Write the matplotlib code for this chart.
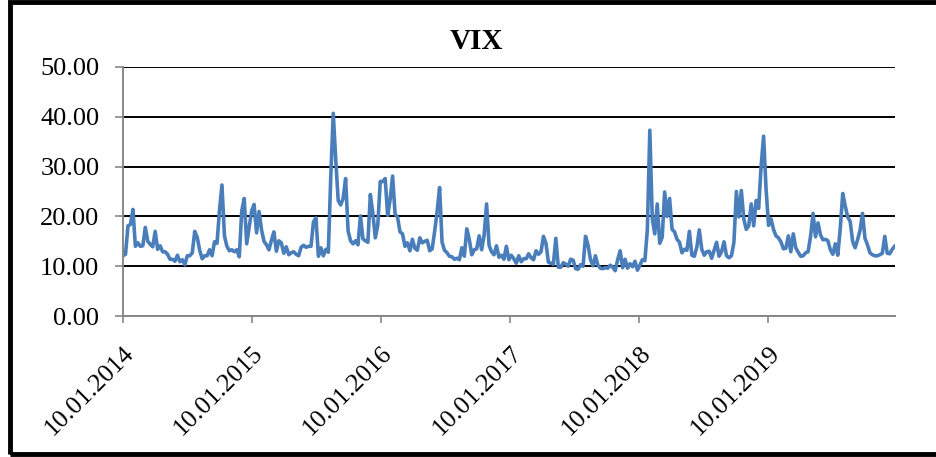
import matplotlib
matplotlib.use("Agg")
import matplotlib.pyplot as plt
import matplotlib.transforms as mtransforms
import pandas as pd
from matplotlib.patches import Rectangle
from matplotlib.ticker import FormatStrFormatter

# weekly readings (Friday)
vix_2014 = [12.1, 12.4, 18.1, 18.4, 21.4, 14.0, 14.7, 14.0, 14.1, 17.8, 15.0, 14.4,
            13.9, 17.0, 13.4, 14.1, 12.9, 12.9, 12.4, 11.4, 11.4, 11.0, 12.2, 10.9,
            11.3, 10.3, 12.1, 12.1, 12.7, 17.0, 15.8, 13.2, 11.5, 12.1, 12.1, 13.3,
            12.1, 14.9, 14.6, 21.2, 26.3, 16.1, 14.0, 13.1, 13.3, 12.9, 13.3, 11.9,
            21.1, 23.6, 14.5]
vix_2015 = [17.8, 21.1, 22.4, 16.7, 21.0, 17.3, 15.0, 14.3, 13.3, 15.2, 16.9, 13.0,
            15.1, 14.7, 12.6, 13.9, 12.3, 12.7, 12.9, 12.4, 12.1, 13.8, 14.2, 13.8,
            14.0, 14.0, 18.9, 19.7, 12.0, 13.7, 12.1, 13.4, 12.8, 28.0, 40.7, 31.4,
            23.2, 22.3, 23.6, 27.6, 17.1, 15.1, 14.5, 15.1, 14.3, 20.1, 15.5, 15.1,
            14.8, 24.4, 20.7, 15.7]
vix_2016 = [18.2, 27.0, 27.0, 27.6, 20.2, 23.4, 28.1, 20.5, 19.8, 16.9, 16.5, 14.0,
            14.7, 13.1, 15.4, 13.6, 13.2, 15.7, 14.7, 15.0, 15.2, 13.1, 13.5, 17.0,
            21.0, 25.8, 14.8, 13.2, 12.7, 12.0, 11.9, 11.4, 11.6, 11.3, 13.7, 12.0,
            17.5, 15.4, 12.3, 13.3, 13.5, 16.1, 13.3, 16.2, 22.5, 14.2, 12.9, 12.3,
            14.1, 11.8, 12.2, 11.4, 14.0]
vix_2017 = [11.3, 12.2, 11.5, 10.6, 12.1, 10.9, 11.5, 11.5, 12.5, 11.7, 11.3, 13.1,
            12.4, 12.9, 16.0, 14.6, 10.8, 10.6, 10.4, 15.6, 9.8, 9.8, 10.7, 10.4,
            10.0, 11.4, 11.2, 9.5, 9.4, 10.3, 10.0, 16.0, 14.3, 11.3, 10.1, 12.1,
            10.2, 9.6, 9.5, 9.7, 9.6, 10.2, 9.8, 9.1, 11.3, 13.1, 9.7, 11.4,
            9.6, 10.5, 9.9, 11.0]
vix_2018 = [9.2, 10.2, 11.3, 11.1, 17.3, 37.3, 19.5, 16.5, 22.5, 14.6, 15.8, 24.9,
            20.0, 23.6, 17.4, 16.9, 15.4, 14.8, 12.7, 13.4, 13.2, 17.0, 12.2, 12.0,
            13.8, 17.3, 13.4, 12.2, 12.9, 13.0, 11.6, 13.2, 14.8, 12.0, 12.9, 14.9,
            12.1, 11.7, 12.1, 14.8, 25.0, 19.9, 25.2, 19.5, 17.4, 18.1, 22.5, 18.1,
            23.2, 21.6, 30.1, 36.1]
vix_2019 = [25.5, 18.2, 19.5, 17.4, 16.1, 15.7, 14.9, 13.5, 13.6, 16.1, 12.9, 16.5,
            13.7, 12.8, 12.0, 12.1, 12.7, 12.9, 16.0, 20.6, 15.9, 18.7, 16.3, 15.3,
            15.4, 15.1, 13.3, 12.4, 14.5, 12.2, 17.6, 24.6, 22.1, 19.9, 19.0, 15.0,
            13.7, 15.3, 17.2, 20.6, 15.6, 14.3, 12.7, 12.3, 12.1, 12.1, 12.3, 12.6,
            16.0, 12.6, 12.5, 13.4, 14.0]
year_starts = ["2014-01-10", "2015-01-02", "2016-01-01", "2017-01-06", "2018-01-05", "2019-01-04"]
tick_labels = ["10.01.2014", "10.01.2015", "10.01.2016", "10.01.2017", "10.01.2018", "10.01.2019"]

series = [vix_2014, vix_2015, vix_2016, vix_2017, vix_2018, vix_2019]
parts = [pd.Series(vals, index=pd.date_range(start, periods=len(vals), freq="W-FRI"))
         for start, vals in zip(year_starts, series)]
vix = pd.concat(parts)

plt.rcParams["font.family"] = ["Liberation Serif", "DejaVu Serif"]

fig = plt.figure(figsize=(9.37, 4.57), dpi=100)
ax = fig.add_axes([0.1313, 0.3085, 0.8239, 0.5449])

ax.plot(vix.index, vix.values, color="#4a7ebb", lw=2.6, solid_joinstyle="round")

ax.set_ylim(0, 50)
ax.set_yticks(range(0, 51, 10))
ax.yaxis.set_major_formatter(FormatStrFormatter("%.2f"))
ax.set_xlim(pd.Timestamp("2014-01-10"), pd.Timestamp("2020-01-04"))
tick_dates = [pd.Timestamp(t) for t in ["2014-01-10", "2015-01-10", "2016-01-10",
                                        "2017-01-10", "2018-01-10", "2019-01-10"]]
ax.set_xticks(tick_dates)
ax.set_xticklabels(tick_labels, rotation=45, ha="right", va="top", rotation_mode="anchor")
shift = mtransforms.ScaledTranslation(-7 / 100, -2 / 100, fig.dpi_scale_trans)
for lbl in ax.get_xticklabels():
    lbl.set_transform(lbl.get_transform() + shift)

ax.grid(axis="y", color="black", lw=1.4)
ax.set_axisbelow(True)
for side in ["top", "right"]:
    ax.spines[side].set_visible(False)
for side in ["left", "bottom"]:
    ax.spines[side].set_color("#888888")
    ax.spines[side].set_linewidth(1.4)
ax.tick_params(axis="y", labelsize=19, length=6, width=1.2, color="#888888", pad=11)
ax.tick_params(axis="x", labelsize=18.5, length=5, width=1.2, color="#888888", pad=14)

fig.text(0.508, 0.893, "VIX", ha="center", va="baseline", fontsize=21, fontweight="bold")

fig.patches.append(Rectangle((0.0105, 0.006), 1.05, 0.99, transform=fig.transFigure,
                             fill=False, edgecolor="black", lw=3.5))

fig.savefig("out.png", dpi=100)
